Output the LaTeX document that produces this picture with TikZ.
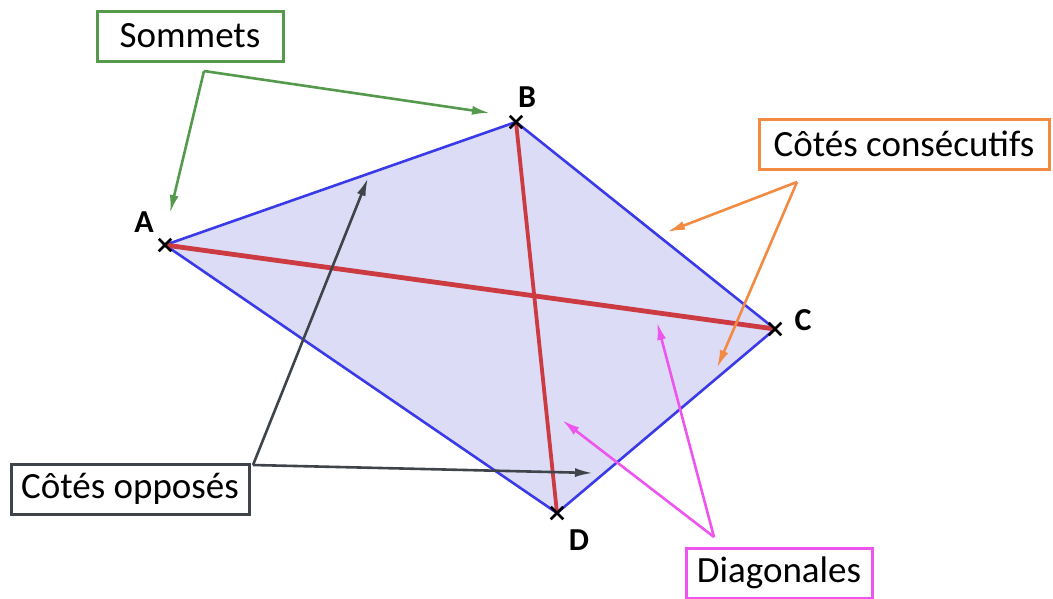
\documentclass[tikz,border=0pt]{standalone}
\usepackage{fontspec}
\setmainfont{Carlito}
\usetikzlibrary{arrows.meta,shapes.misc}

\definecolor{edgeblue}{HTML}{3A3AE8}
\definecolor{fillblue}{HTML}{DCDCF7}
\definecolor{diagred}{HTML}{CC3A42}
\definecolor{sgreen}{HTML}{559A4C}
\definecolor{corange}{HTML}{F28A42}
\definecolor{ogray}{HTML}{3F444A}
\definecolor{dmagenta}{HTML}{EE55EE}

\begin{document}
\begin{tikzpicture}[x=1pt,y=-1pt,
  lbl/.style={draw=#1,line width=3pt,fill=white,minimum height=50pt,inner sep=0pt,font=\fontsize{37}{40}\selectfont},
  ptr/.style={draw=#1,line width=2.6pt,-{Latex[length=18pt,width=9pt]}},
  vtx/.style={cross out,draw=black,line width=2.5pt,minimum size=10pt,inner sep=0pt},
  vname/.style={font=\fontsize{32}{34}\selectfont\bfseries}]
\useasboundingbox (0,0) rectangle (1053,598);
% quadrilateral
\coordinate (A) at (165,245);
\coordinate (B) at (516,122);
\coordinate (C) at (775,329);
\coordinate (D) at (557,513);
\fill[fillblue] (A) -- (B) -- (C) -- (D) -- cycle;
\draw[edgeblue,line width=2.6pt] (A) -- (B) -- (C) -- (D) -- cycle;
\draw[diagred,line width=4.8pt] (A) -- (C);
\draw[diagred,line width=3.8pt] (B) -- (D);
\foreach \p in {A,B,C,D} {
   \node[vtx] (x\p) at (\p) {};
}
\node[vname] (nA) at (144,222) {A};
\node[vname] (nB) at (527,97) {B};
\node[vname] (nC) at (803,320) {C};
\node[vname] (nD) at (579,540) {D};
% captions
\node[lbl=sgreen,minimum width=186pt] (som) at (190,36) {Sommets};
\node[lbl=corange,minimum width=290pt] (cons) at (904,144) {Côtés consécutifs};
\node[lbl=ogray,minimum width=238pt] (opp) at (130,489) {Côtés opposés};
\node[lbl=dmagenta,minimum width=186pt] (diag) at (779,573) {Diagonales};
% pointers
\coordinate (kS) at (204,71);
\coordinate (kC) at (797,182);
\coordinate (kO) at (253,465);
\coordinate (kD) at (714,537);
\draw[ptr=sgreen] (kS) -- (170,213);
\draw[ptr=sgreen] (kS) -- (490,113);
\draw[ptr=corange] (kC) -- (667,232);
\draw[ptr=corange] (kC) -- (717,368);
\draw[ptr=ogray] (kO) -- (368,178);
\draw[ptr=ogray] (kO) -- (593,473);
\draw[ptr=dmagenta] (kD) -- (562,420);
\draw[ptr=dmagenta] (kD) -- (657,322);
\end{tikzpicture}
\end{document}
